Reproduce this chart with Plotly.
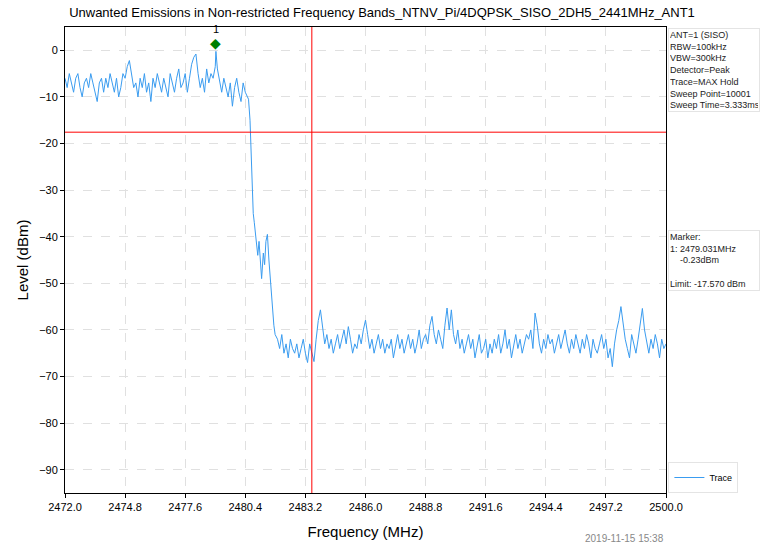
import numpy as np
import plotly.graph_objects as go

# ---- measurement data ----
f_start, f_stop = 2472.0, 2500.0
limit_dbm = -17.570
band_edge_mhz = 2483.5
marker_freq = 2479.031
marker_level = -0.23

# in-band plateau, 2472.0 .. 2480.5 MHz
plateau_level = [
    -6, -8, -5, -7, -9, -6, -5, -8, -10, -7, -6,
    -8, -5, -7, -9, -11, -7, -6, -9, -6, -8,
    -5, -7, -9, -6, -10, -8, -5, -6, -3.5, -2.2,
    -5, -8, -7, -10, -6, -8, -5, -9, -7, -11, -6, -8, -5, -7, -9,
    -6, -8, -10, -5, -7, -9, -6, -4, -8, -7,
    -5, -9, -6, -3, -1.5, -0.8, -5,
    -8, -6, -9, -4, -7, -5, -6, -3.5,
    -4, -7, -9, -6, -8, -10, -7, -12, -8, -6, -9, -11, -7, -9, -10,
]

# band-edge roll-off
edge_freq = [2480.55, 2480.62, 2480.70, 2480.77, 2480.82, 2480.88, 2480.93,
             2480.98, 2481.04, 2481.10, 2481.16, 2481.24, 2481.30, 2481.36,
             2481.43, 2481.50, 2481.58, 2481.66, 2481.73, 2481.79]
edge_level = [-10.5, -15, -26, -35, -37, -39.5, -42,
              -44, -41, -45, -49, -43.5, -46, -41,
              -39.5, -45, -50, -56, -59, -61]

# out-of-band noise floor, 2481.9 .. 2500.0 MHz
floor_level = [
    -62, -64, -61, -65, -63, -66, -62, -64, -65, -63,
    -66, -64, -62, -65, -67, -63, -65, -66.8,
    -62, -58, -55.7, -60, -63,
    -61, -64, -62, -65, -63, -61, -64, -62, -60, -63,
    -59.3, -62, -65, -63, -64, -61, -63, -60, -57.9,
    -61, -64, -62, -65, -63, -61, -64, -62, -65, -63,
    -64, -62, -66, -63, -61, -64, -62, -65, -63, -61,
    -64, -62, -65, -63, -60, -64, -62, -61, -63, -59,
    -57.1, -61, -63, -60, -62, -64, -59, -55.3, -60,
    -55.7, -61, -63, -60, -64, -62, -65, -63, -61, -64,
    -62, -66, -63, -61, -65, -64, -62, -66, -63, -65,
    -62, -64, -61, -65, -63, -60, -64, -62, -66, -63,
    -61, -64, -62, -65, -63, -61, -62, -60, -64, -56.4,
    -59, -63, -65, -62, -64, -61, -63, -62, -65, -63,
    -61, -64, -62, -60, -63, -65, -62, -64, -61, -63,
    -65, -62, -64, -61, -63, -66, -62, -64, -65, -63,
    -61, -64, -62, -66, -64, -67.9, -63, -60, -58, -55,
    -59, -62, -64, -66, -61, -63, -65, -62, -59, -55.4,
    -60, -63, -65, -62, -64, -61, -63, -66, -62, -64, -63,
]

x_ticks = [2472.0, 2474.8, 2477.6, 2480.4, 2483.2, 2486.0,
           2488.8, 2491.6, 2494.4, 2497.2, 2500.0]
y_ticks = [-90, -80, -70, -60, -50, -40, -30, -20, -10, 0]

info_lines = ["ANT=1 (SISO)", "RBW=100kHz", "VBW=300kHz", "Detector=Peak",
              "Trace=MAX Hold", "Sweep Point=10001", "Sweep Time=3.333ms"]

# ---- assemble trace ----
plateau_freq = np.linspace(f_start, 2480.5, len(plateau_level))
floor_freq = np.linspace(2481.9, f_stop, len(floor_level))
freq = np.concatenate([plateau_freq, edge_freq, floor_freq])
level = np.concatenate([plateau_level, edge_level, floor_level])
pos = np.searchsorted(freq, marker_freq)
freq = np.insert(freq, pos, marker_freq)
level = np.insert(level, pos, marker_level)

fig = go.Figure()
fig.add_trace(go.Scatter(
    x=freq, y=level, mode="lines", name="Trace",
    line=dict(color="#3a9cf0", width=1),
))

fig.add_hline(y=limit_dbm, line=dict(color="red", width=1))
fig.add_vline(x=band_edge_mhz, line=dict(color="red", width=1))

font = "Liberation Sans, Arial, sans-serif"

marker_text = (f"Marker:<br>1: {marker_freq:.3f}MHz<br>"
               f"&nbsp;&nbsp;&nbsp;&nbsp;{marker_level:.2f}dBm"
               f"<br><br>Limit: {limit_dbm:.3f} dBm")

annotations = [
    dict(x=marker_freq, y=marker_level, xref="x", yref="y", text="◆",
         showarrow=False, yshift=8, font=dict(color="green", size=14)),
    dict(x=marker_freq, y=marker_level, xref="x", yref="y", text="1",
         showarrow=False, yshift=22, font=dict(color="black", size=11)),
    dict(x=1.004, y=0.998, xref="paper", yref="paper", xanchor="left",
         yanchor="top", align="left", showarrow=False,
         text="<br>".join(info_lines),
         font=dict(size=9, color="#222222"),
         bordercolor="#e4e4e4", borderwidth=1, borderpad=1,
         width=88),
    dict(x=1.004, y=0.565, xref="paper", yref="paper", xanchor="left",
         yanchor="top", align="left", showarrow=False,
         text=marker_text,
         font=dict(size=9, color="#222222"),
         bordercolor="#e4e4e4", borderwidth=1, borderpad=1,
         width=88),
    dict(x=1.0, y=-0.082, xref="paper", yref="paper", xanchor="right",
         yanchor="top", showarrow=False, text="2019-11-15 15:38",
         font=dict(size=10, color="#888888")),
]

fig.update_layout(
    width=764, height=546,
    margin=dict(l=65, r=98, t=27, b=53, autoexpand=False),
    paper_bgcolor="white", plot_bgcolor="white",
    font=dict(family=font, color="black"),
    title=dict(text="Unwanted Emissions in Non-restricted Frequency Bands_NTNV_Pi/4DQPSK_SISO_2DH5_2441MHz_ANT1",
               x=0.5, xanchor="center", y=0.978, yanchor="middle",
               font=dict(size=13, family=font)),
    showlegend=True,
    legend=dict(x=1.004, y=0.0, xanchor="left", yanchor="bottom",
                bordercolor="#e4e4e4", borderwidth=1, bgcolor="white",
                font=dict(size=9), itemwidth=30, tracegroupgap=0),
    annotations=annotations,
)

fig.update_xaxes(
    range=[f_start, f_stop], tickvals=x_ticks,
    ticktext=[f"{v:.1f}" for v in x_ticks],
    showgrid=True, gridcolor="#e0e0e0", griddash="dash", gridwidth=1,
    showline=True, linecolor="black", linewidth=1, mirror=True,
    ticks="outside", ticklen=4, tickcolor="black",
    tickfont=dict(size=11), zeroline=False, automargin=False,
    title=dict(text="Frequency (MHz)", font=dict(size=15), standoff=14),
)
fig.update_yaxes(
    range=[-95, 5], tickvals=y_ticks,
    showgrid=True, gridcolor="#e0e0e0", griddash="dash", gridwidth=1,
    showline=True, linecolor="black", linewidth=1, mirror=True,
    ticks="outside", ticklen=4, tickcolor="black",
    tickfont=dict(size=11), zeroline=False, automargin=False,
    title=dict(text="Level (dBm)", font=dict(size=15), standoff=6),
)

fig.write_html("out.html")
